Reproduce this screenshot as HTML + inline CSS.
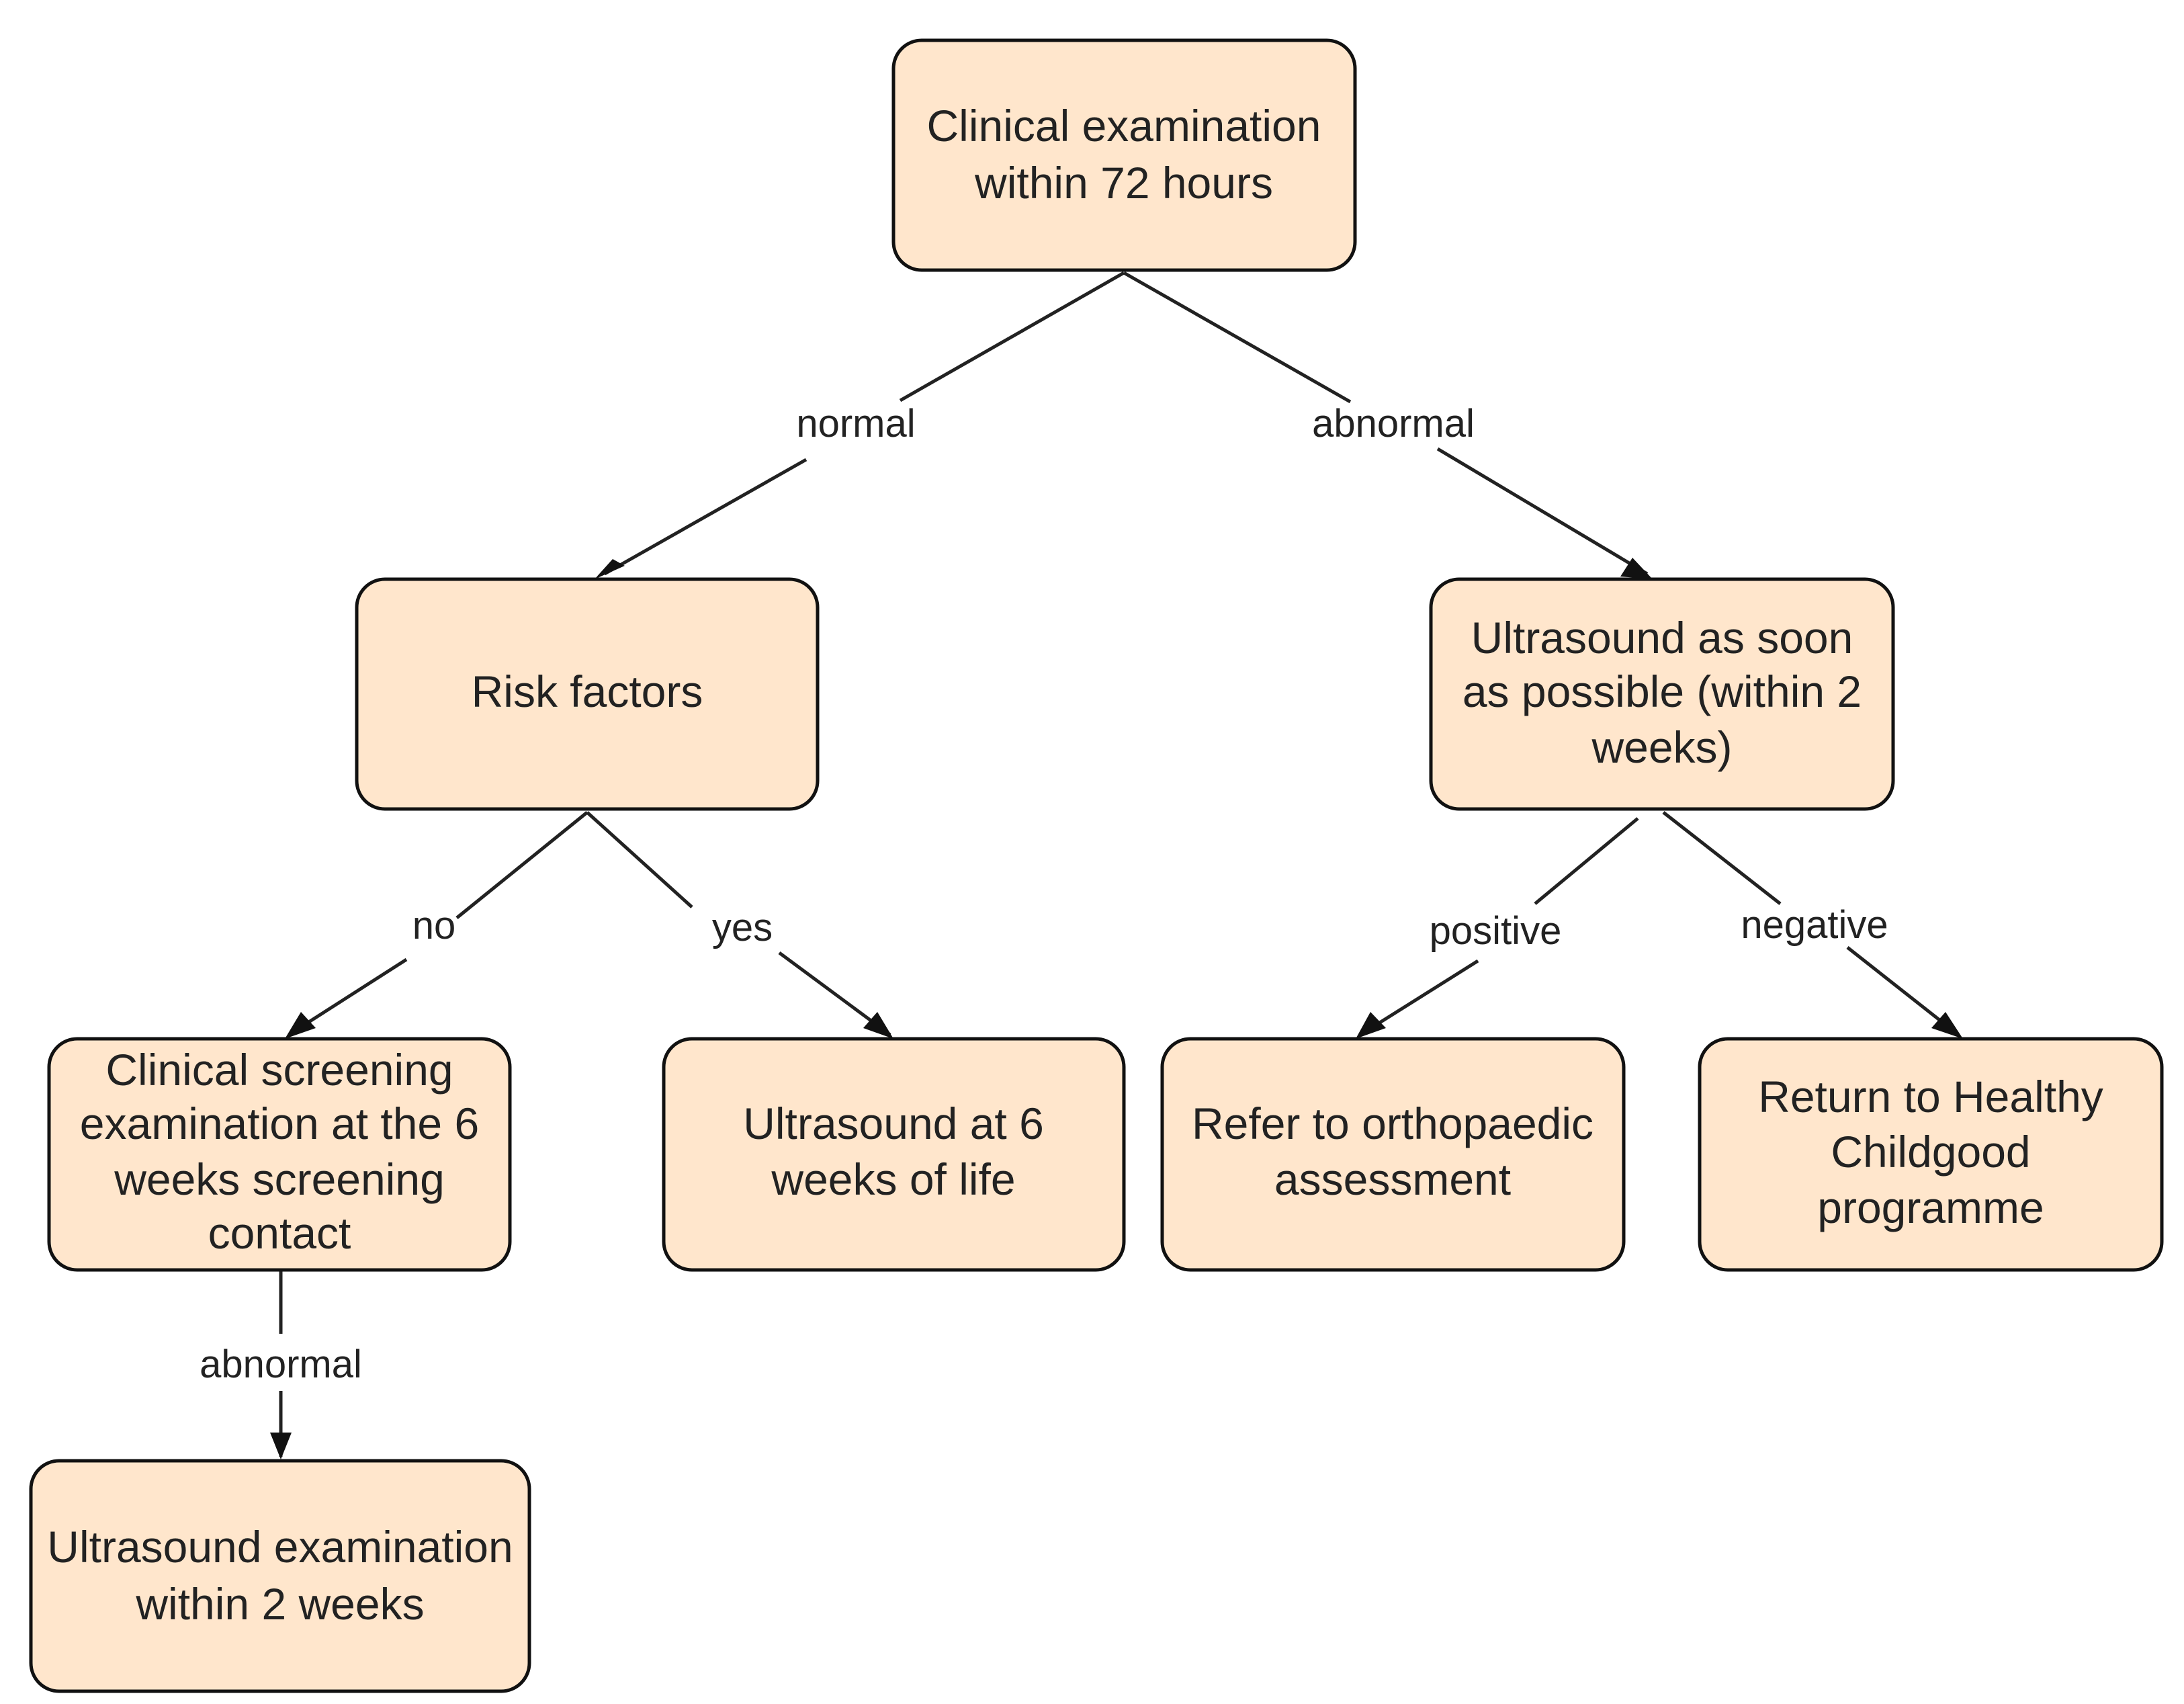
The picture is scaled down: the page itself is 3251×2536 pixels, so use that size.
<!DOCTYPE html>
<html><head><meta charset="utf-8"><style>
html,body{margin:0;padding:0;background:#fff}
svg{display:block}
text{font-family:"Liberation Sans",Arial,sans-serif;fill:#222}
.b{font-size:66px}
.l{font-size:58px}
rect{fill:#ffe6cc;stroke:#111;stroke-width:5}
line{stroke:#222;stroke-width:5}
</style></head><body>
<svg width="3251" height="2536" viewBox="0 0 3251 2536" xmlns="http://www.w3.org/2000/svg">
<g>
<line x1="1673" y1="406" x2="1340" y2="596"/>
<line x1="1200" y1="684" x2="900" y2="854"/>
<line x1="1673" y1="406" x2="2010" y2="598"/>
<line x1="2140" y1="668" x2="2452" y2="854"/>
<line x1="874" y1="1209" x2="680" y2="1366"/>
<line x1="605" y1="1428" x2="430" y2="1540"/>
<line x1="874" y1="1209" x2="1030" y2="1350"/>
<line x1="1160" y1="1418" x2="1325" y2="1540"/>
<line x1="2438" y1="1218" x2="2285" y2="1345"/>
<line x1="2200" y1="1430" x2="2025" y2="1540"/>
<line x1="2476" y1="1209" x2="2650" y2="1345"/>
<line x1="2750" y1="1410" x2="2915" y2="1540"/>
<line x1="418" y1="1892" x2="418" y2="1985"/>
<line x1="418" y1="2070" x2="418" y2="2168"/>
</g>
<g fill="#111">
<polygon points="885,862 930,842 912,832"/>
<polygon points="2460,862 2412,858 2430,830"/>
<polygon points="424,1546 448,1506 470,1530"/>
<polygon points="1330,1546 1285,1530 1306,1506"/>
<polygon points="2018,1546 2040,1506 2063,1530"/>
<polygon points="2922,1546 2875,1530 2896,1506"/>
<polygon points="418,2172 402,2132 434,2132"/>
</g>
<text class="l" x="1274" y="650" text-anchor="middle">normal</text>
<text class="l" x="2074" y="650" text-anchor="middle">abnormal</text>
<text class="l" x="646" y="1397" text-anchor="middle">no</text>
<text class="l" x="1105" y="1400" text-anchor="middle">yes</text>
<text class="l" x="2226" y="1405" text-anchor="middle">positive</text>
<text class="l" x="2701" y="1396" text-anchor="middle">negative</text>
<text class="l" x="418" y="2050" text-anchor="middle">abnormal</text>
<rect x="1330" y="60" width="687" height="342" rx="42"/>
<text class="b" text-anchor="middle" x="1673" y="210">Clinical examination</text>
<text class="b" text-anchor="middle" x="1673" y="295">within 72 hours</text>
<rect x="531" y="862" width="686" height="342" rx="42"/>
<text class="b" text-anchor="middle" x="874" y="1052">Risk factors</text>
<rect x="2130" y="862" width="688" height="342" rx="42"/>
<text class="b" text-anchor="middle" x="2474" y="972">Ultrasound as soon</text>
<text class="b" text-anchor="middle" x="2474" y="1052">as possible (within 2</text>
<text class="b" text-anchor="middle" x="2474" y="1135">weeks)</text>
<rect x="73" y="1546" width="686" height="344" rx="42"/>
<text class="b" text-anchor="middle" x="416" y="1615">Clinical screening</text>
<text class="b" text-anchor="middle" x="416" y="1695">examination at the 6</text>
<text class="b" text-anchor="middle" x="416" y="1778">weeks screening</text>
<text class="b" text-anchor="middle" x="416" y="1858">contact</text>
<rect x="988" y="1546" width="685" height="344" rx="42"/>
<text class="b" text-anchor="middle" x="1330" y="1695">Ultrasound at 6</text>
<text class="b" text-anchor="middle" x="1330" y="1778">weeks of life</text>
<rect x="1730" y="1546" width="687" height="344" rx="42"/>
<text class="b" text-anchor="middle" x="2073" y="1695">Refer to orthopaedic</text>
<text class="b" text-anchor="middle" x="2073" y="1778">assessment</text>
<rect x="2530" y="1546" width="688" height="344" rx="42"/>
<text class="b" text-anchor="middle" x="2874" y="1655">Return to Healthy</text>
<text class="b" text-anchor="middle" x="2874" y="1737">Childgood</text>
<text class="b" text-anchor="middle" x="2874" y="1820">programme</text>
<rect x="46" y="2174" width="742" height="343" rx="42"/>
<text class="b" text-anchor="middle" x="417" y="2325">Ultrasound examination</text>
<text class="b" text-anchor="middle" x="417" y="2410">within 2 weeks</text>
</svg>
</body></html>
